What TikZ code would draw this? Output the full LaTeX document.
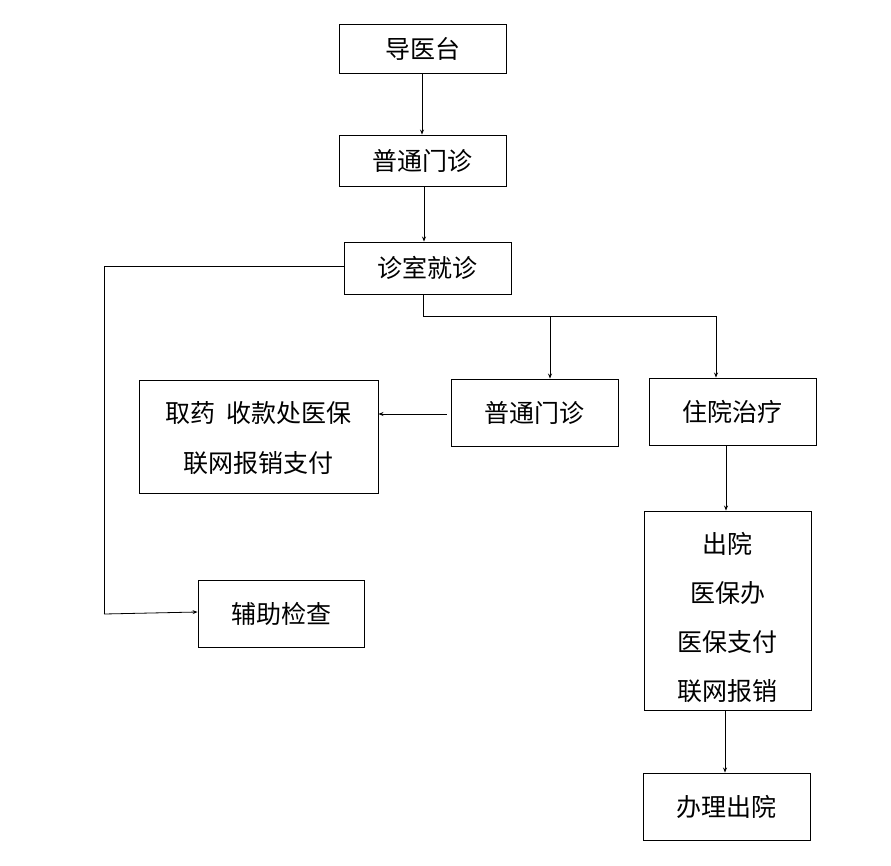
\documentclass[tikz,border=0pt]{standalone}
\usepackage{fontspec}
\setmainfont{Noto Sans CJK SC}
\usetikzlibrary{arrows.meta}
\begin{document}
\begin{tikzpicture}[x=1pt,y=-1pt,
  box/.style={draw,line width=0.9pt,rectangle,inner sep=0pt,font=\fontsize{25}{30}\selectfont,align=center},
  conn/.style={line width=0.8pt},
  arr/.style={conn,-{Stealth[length=5pt,width=4pt]}}]
\useasboundingbox (0,0) rectangle (891,865);
\fill[white] (0,0) rectangle (891,865);
\node[box,minimum width=167pt,minimum height=49pt] (dy) at (422.5,48.5) {导医台};
\node[box,minimum width=167pt,minimum height=51pt] (pt1) at (422.5,160.5) {普通门诊};
\node[box,minimum width=167pt,minimum height=52pt] (zs) at (427.5,268) {诊室就诊};
\node[box,minimum width=239pt,minimum height=113pt] (qy) at (258.5,436.5) {\rule{0pt}{24pt}取药\ \ 收款处医保\\[20pt]联网报销支付};
\node[box,minimum width=167pt,minimum height=67pt] (pt2) at (534.5,412.5) {普通门诊};
\node[box,minimum width=167pt,minimum height=67pt] (zy) at (732.5,411.5) {住院治疗};
\node[box,minimum width=166pt,minimum height=67pt] (fz) at (281,613.5) {辅助检查};
\node[box,minimum width=167pt,minimum height=199pt] (cy) at (727.5,610.5) {\rule{0pt}{36pt}出院\\[19pt]医保办\\[19pt]医保支付\\[19pt]联网报销};
\node[box,minimum width=167pt,minimum height=67pt] (bl) at (726.5,806.5) {办理出院};
% connectors
\draw[arr] (dy.south -| 422,0) -- (pt1.north -| 422,0);
\draw[arr] (pt1.south -| 424,0) -- (zs.north -| 424,0);
\coordinate (L1) at (104,266);
\coordinate (L2) at (104,614);
\draw[conn] (zs.west |- L1) -- (L1) -- (L2);
\draw[arr] (L2) -- (fz.west |- 0,612);
\coordinate (B1) at (423,316);
\coordinate (B2) at (717,316);
\draw[conn] (zs.south -| B1) -- (B1) -- (B2);
\draw[arr] (550,316) -- (pt2.north -| 550,0);
\draw[arr] (716,316) -- (zy.north -| 716,0);
\draw[arr] (pt2.west |- 0,414) ++(-4,0) -- (qy.east |- 0,414);
\draw[arr] (zy.south -| 726,0) -- (cy.north -| 726,0);
\draw[arr] (cy.south -| 725,0) -- (bl.north -| 725,0);
\end{tikzpicture}
\end{document}
